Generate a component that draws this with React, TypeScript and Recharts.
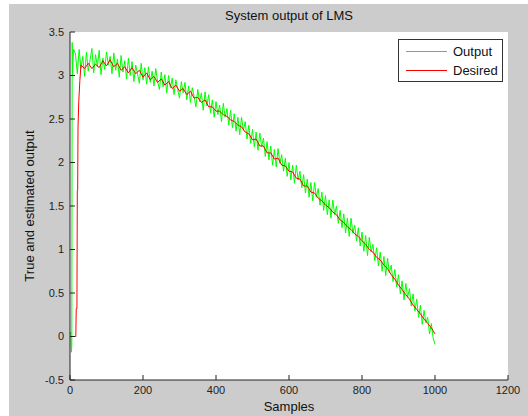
import { LineChart, Line, XAxis, YAxis, CartesianGrid } from "recharts";

// ---- data ----
const xTicks = [0, 200, 400, 600, 800, 1000, 1200];
const yTicks = [-0.5, 0, 0.5, 1, 1.5, 2, 2.5, 3, 3.5];

// green "Output": irregular start, then one value every 5 samples from 15 to 1000
const outputStartX = [0, 2, 4, 5, 6, 7, 8, 10];
const outputStartY = [0.03, 0.05, -0.18, -0.1, 3.38, 3.0, 3.15, 3.3];
const outputStep = 5;
const outputFrom = 15;
const outputY = [
  3.25, 3.02, 3.3, 3.08, 3.22, 2.99, 3.27, 3.05, 3.18, 3.31,
  3.03, 3.24, 3.1, 3.29, 3.01, 3.2, 3.07, 3.27, 3.12, 3.22,
  3.02, 3.26, 3.06, 3.19, 2.98, 3.23, 3.04, 3.17, 2.96, 3.2,
  3.0, 3.16, 2.93, 3.12, 3.02, 2.91, 3.14, 2.95, 3.09, 2.9,
  3.1, 2.92, 3.05, 2.88, 3.08, 2.93, 2.84, 3.04, 2.87, 3.01,
  2.8, 3.0, 2.86, 2.97, 2.78, 2.95, 2.84, 2.74, 2.93, 2.8,
  2.92, 2.72, 2.88, 2.69, 2.86, 2.76, 2.64, 2.84, 2.7, 2.8,
  2.6, 2.81, 2.65, 2.78, 2.57, 2.72, 2.52, 2.7, 2.55, 2.66,
  2.47, 2.68, 2.52, 2.62, 2.43, 2.6, 2.4, 2.56, 2.36, 2.52,
  2.32, 2.52, 2.37, 2.47, 2.27, 2.43, 2.22, 2.38, 2.18, 2.35,
  2.14, 2.34, 2.18, 2.28, 2.07, 2.24, 2.03, 2.19, 1.97, 2.15,
  1.95, 2.16, 1.99, 2.09, 1.9, 2.05, 1.84, 2.0, 1.8, 1.97,
  1.76, 1.97, 1.8, 1.9, 1.71, 1.86, 1.65, 1.81, 1.6, 1.77,
  1.56, 1.77, 1.6, 1.7, 1.51, 1.66, 1.45, 1.62, 1.4, 1.57,
  1.36, 1.57, 1.4, 1.5, 1.3, 1.45, 1.25, 1.41, 1.19, 1.36,
  1.15, 1.36, 1.19, 1.28, 1.1, 1.25, 1.04, 1.2, 0.98, 1.16,
  0.93, 1.14, 0.97, 1.06, 0.87, 1.02, 0.81, 0.97, 0.75, 0.92,
  0.7, 0.9, 0.73, 0.82, 0.63, 0.77, 0.57, 0.71, 0.49, 0.64,
  0.42, 0.61, 0.45, 0.55, 0.35, 0.49, 0.29, 0.43, 0.22, 0.36,
  0.14, 0.3, 0.16, 0.22, 0.03, 0.15, -0.02, -0.09,
];

// red "Desired": irregular start, then one value every 10 samples from 40 to 1000
const desiredStartX = [0, 16, 17, 19, 20, 21, 22, 24, 27, 30];
const desiredStartY = [0, 0, 0.32, 0.32, 1.68, 1.68, 2.41, 2.7, 2.94, 3.12];
const desiredStep = 10;
const desiredFrom = 40;
const desiredY = [
  3.08, 3.14, 3.08, 3.13, 3.09, 3.17, 3.11, 3.18, 3.1, 3.14,
  3.06, 3.1, 3.03, 3.09, 3.02, 3.06, 2.98, 3.03, 2.95, 2.99,
  2.92, 2.96, 2.89, 2.93, 2.85, 2.89, 2.82, 2.85, 2.78, 2.82,
  2.74, 2.75, 2.69, 2.72, 2.64, 2.64, 2.59, 2.59, 2.55, 2.53,
  2.49, 2.47, 2.43, 2.41, 2.35, 2.33, 2.26, 2.27, 2.19, 2.19,
  2.11, 2.11, 2.04, 2.05, 1.97, 1.96, 1.9, 1.89, 1.82, 1.81,
  1.73, 1.73, 1.66, 1.65, 1.59, 1.56, 1.51, 1.48, 1.43, 1.4,
  1.34, 1.31, 1.26, 1.23, 1.18, 1.15, 1.1, 1.06, 1.0, 0.97,
  0.91, 0.88, 0.82, 0.78, 0.71, 0.66, 0.59, 0.54, 0.48, 0.43,
  0.36, 0.31, 0.26, 0.2, 0.15, 0.1, 0.03,
];

function toPoints(startX: number[], startY: number[], from: number, step: number, ys: number[]) {
  const pts = startX.map((x, i) => ({ x, y: startY[i] }));
  ys.forEach((y, i) => pts.push({ x: from + i * step, y }));
  return pts;
}

const outputData = toPoints(outputStartX, outputStartY, outputFrom, outputStep, outputY);
const desiredData = toPoints(desiredStartX, desiredStartY, desiredFrom, desiredStep, desiredY);

const font = "'Liberation Sans', Arial, sans-serif";
const tickStyle = { fontSize: 11, fill: "#222", fontFamily: font };

export default function App() {
  return (
    <div style={{ position: "absolute", left: 0, top: 0, width: 528, height: 416, background: "#fff", fontFamily: font }}>
      <div style={{ position: "absolute", left: 9, top: 4, width: 519, height: 412, background: "#cccccc" }} />

      <div style={{ position: "absolute", left: 0, top: 0 }}>
        <LineChart width={528} height={416} margin={{ top: 32, right: 20, bottom: 6, left: 0 }}>
          <CartesianGrid fill="#ffffff" stroke="none" />
          <XAxis
            type="number"
            dataKey="x"
            domain={[0, 1200]}
            ticks={xTicks}
            height={30}
            stroke="#222"
            tickSize={-5}
            tickMargin={11}
            tick={tickStyle}
            allowDuplicatedCategory={false}
          />
          <YAxis
            type="number"
            dataKey="y"
            domain={[-0.5, 3.5]}
            ticks={yTicks}
            width={70}
            stroke="#222"
            tickSize={-5}
            tickMargin={11}
            tick={tickStyle}
          />
          <Line data={outputData} dataKey="y" stroke="#00ff00" strokeWidth={1} dot={false} isAnimationActive={false} type="linear" />
          <Line data={desiredData} dataKey="y" stroke="#ff0000" strokeWidth={1} dot={false} isAnimationActive={false} type="linear" />
        </LineChart>
      </div>

      {/* title and axis labels */}
      <div style={{ position: "absolute", left: 70, width: 438, top: 8, textAlign: "center", fontSize: 13, color: "#111" }}>
        System output of LMS
      </div>
      <div style={{ position: "absolute", left: 70, width: 438, top: 399, textAlign: "center", fontSize: 13, color: "#111" }}>
        Samples
      </div>
      <div
        style={{
          position: "absolute",
          left: 29,
          top: 206,
          transform: "translate(-50%, -50%) rotate(-90deg)",
          whiteSpace: "nowrap",
          fontSize: 13,
          color: "#111",
        }}
      >
        True and estimated output
      </div>

      {/* legend */}
      <div
        style={{
          position: "absolute",
          left: 398,
          top: 39,
          width: 103,
          height: 41,
          border: "1px solid #333",
          background: "#fff",
          fontSize: 13,
          color: "#111",
        }}
      >
        <LegendRow color="#00ff00" text="Output" top={2} />
        <LegendRow color="#ff0000" text="Desired" top={21} />
      </div>
    </div>
  );
}

function LegendRow({ color, text, top }: { color: string; text: string; top: number }) {
  return (
    <div style={{ position: "absolute", left: 7, top, height: 18, display: "flex", alignItems: "center" }}>
      <svg width={41} height={18} style={{ display: "block" }}>
        <line x1={0} x2={41} y1={9.5} y2={9.5} stroke={color} strokeWidth={1} />
      </svg>
      <span style={{ marginLeft: 6 }}>{text}</span>
    </div>
  );
}
